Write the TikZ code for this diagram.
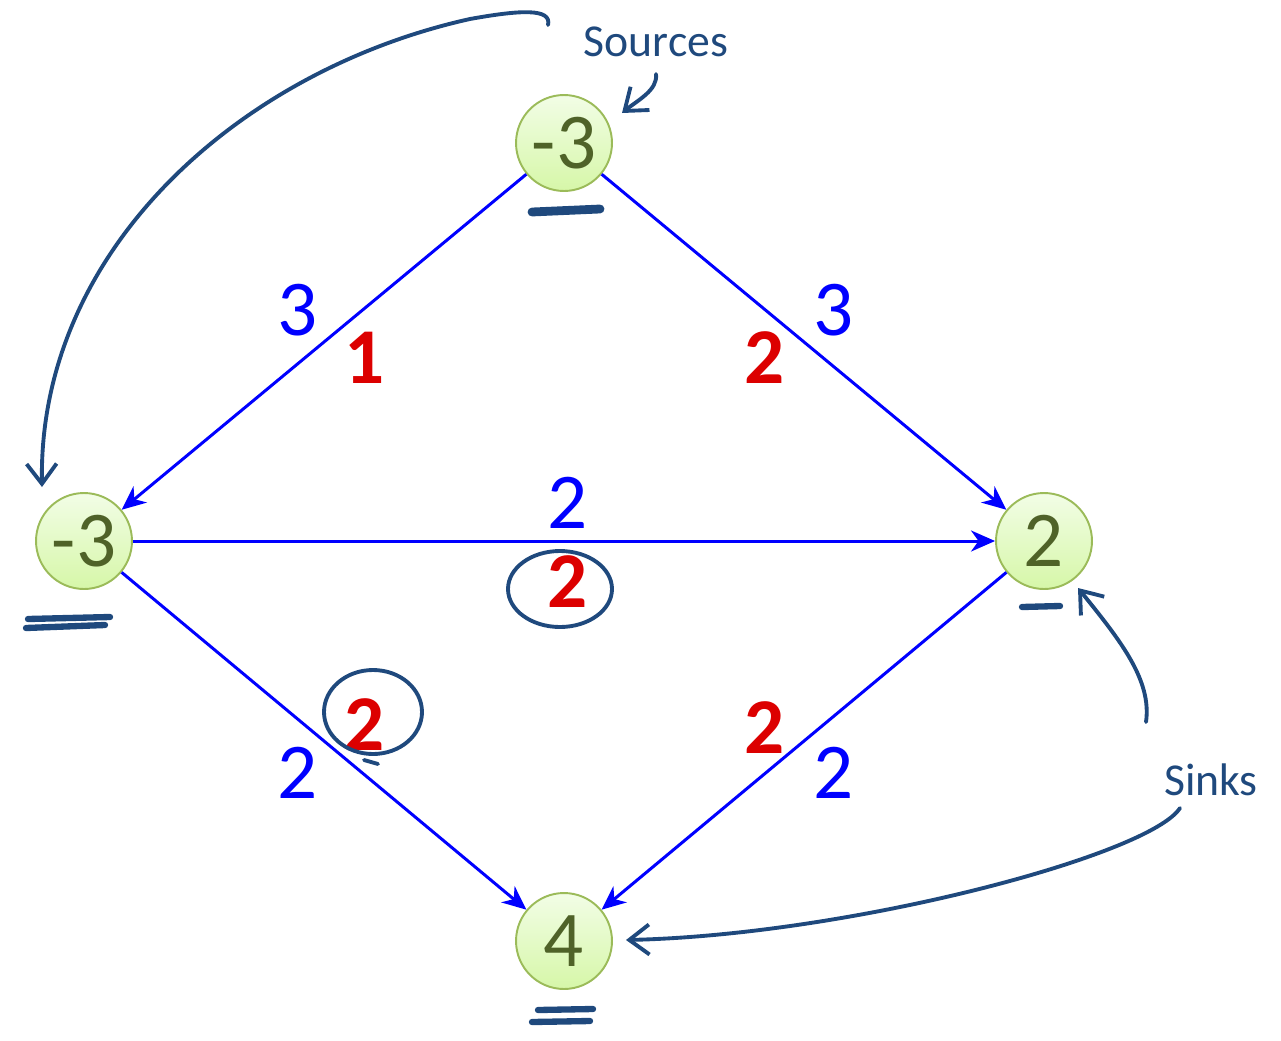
\documentclass[tikz,border=0pt]{standalone}
\usepackage{fontspec}
\setmainfont{Carlito}
\usetikzlibrary{arrows.meta}
\definecolor{nodetop}{RGB}{242,253,230}
\definecolor{nodebot}{RGB}{214,247,168}
\definecolor{nodeedge}{RGB}{155,187,89}
\definecolor{nodetext}{RGB}{79,98,40}
\definecolor{flowred}{RGB}{220,0,0}
\definecolor{inkblue}{RGB}{31,73,125}
\begin{document}
\begin{tikzpicture}[x=0.02cm,y=-0.02cm, every node/.style={font=\fontsize{45}{54}\selectfont},
    vertex/.style={circle, draw=nodeedge, line width=1.1pt, top color=nodetop, bottom color=nodebot, text=nodetext, minimum size=1.92cm, inner sep=0pt},
    edgearrow/.style={blue, line width=1.7pt, -{Stealth[length=4.8mm,width=4.2mm,inset=1.5mm]}},
    caplbl/.style={text=blue},
    flowlbl/.style={text=flowred, font=\fontsize{45}{54}\selectfont\bfseries},
    ink/.style={draw=inkblue, line width=2.2pt, line cap=round, line join=round},
    inkarrow/.style={ink, -{Straight Barb[length=4mm,width=6mm]}},
    smear/.style={draw=inkblue, line width=3.6pt, line cap=round},
    inktext/.style={text=inkblue, font=\fontsize{26}{30}\selectfont}]
    \useasboundingbox (0,0) rectangle (1281,1041);
    \node[vertex] (s) at (564,143) {-3};
    \node[vertex] (a) at (84,541) {-3};
    \node[vertex] (b) at (1044,541) {2};
    \node[vertex] (t) at (564,941) {4};
    \draw[edgearrow] (s) -- (a);
    \draw[edgearrow] (s) -- (b);
    \draw[edgearrow] (a) -- (b);
    \draw[edgearrow] (a) -- (t);
    \draw[edgearrow] (b) -- (t);
    \node[caplbl] (c1) at (298,310) {3};
    \node[flowlbl] (f1) at (365,358) {1};
    \node[caplbl] (c2) at (834,310) {3};
    \node[flowlbl] (f2) at (765,358) {2};
    \node[caplbl] (c3) at (568,503) {2};
    \node[flowlbl] (f3) at (568,582) {2};
    \node[caplbl] (c4) at (298,773) {2};
    \node[flowlbl] (f4) at (365,725) {2};
    \node[caplbl] (c5) at (834,773) {2};
    \node[flowlbl] (f5) at (765,728) {2};
    \node[inktext] (srclbl) at (656,42) {Sources};
    \node[inktext] (snklbl) at (1211,780) {Sinks};
    \coordinate (srcnote) at (548,25);
    \coordinate (srcbend) at (470,19);
    \coordinate (srctip) at (42,487);
    \coordinate (srcfrom) at (656,74);
    \coordinate (srcto) at (622,113);
    \coordinate (snkfrom) at (1146,722);
    \coordinate (snktip) at (1078,588);
    \coordinate (snkfrom2) at (1180,808);
    \coordinate (snktip2) at (626,940);
    \draw[ink] (srcnote) .. controls (552,8) and (520,10) .. (srcbend);
    \draw[inkarrow] (srcbend) .. controls (240,70) and (38,250) .. (srctip);
    \draw[inkarrow] (srcfrom) .. controls (658,90) and (638,100) .. (srcto);
    \draw[inkarrow] (snkfrom) .. controls (1152,680) and (1120,640) .. (snktip);
    \draw[inkarrow] (snkfrom2) .. controls (1150,855) and (850,935) .. (snktip2);
    \draw[smear, line width=5pt] (532,212) -- (600,209);
    \draw[smear] (28,619) -- (110,617);
    \draw[smear] (26,628) -- (105,625);
    \draw[smear] (1022,607) -- (1060,606);
    \draw[smear] (538,1010) -- (593,1009);
    \draw[smear] (532,1022) -- (590,1021);
    \draw[ink] (560,589) ellipse [x radius=52, y radius=38];
    \draw[ink] (373,712) ellipse [x radius=49, y radius=42];
    \draw[ink] (364,760) -- (378,764);
\end{tikzpicture}
\end{document}
